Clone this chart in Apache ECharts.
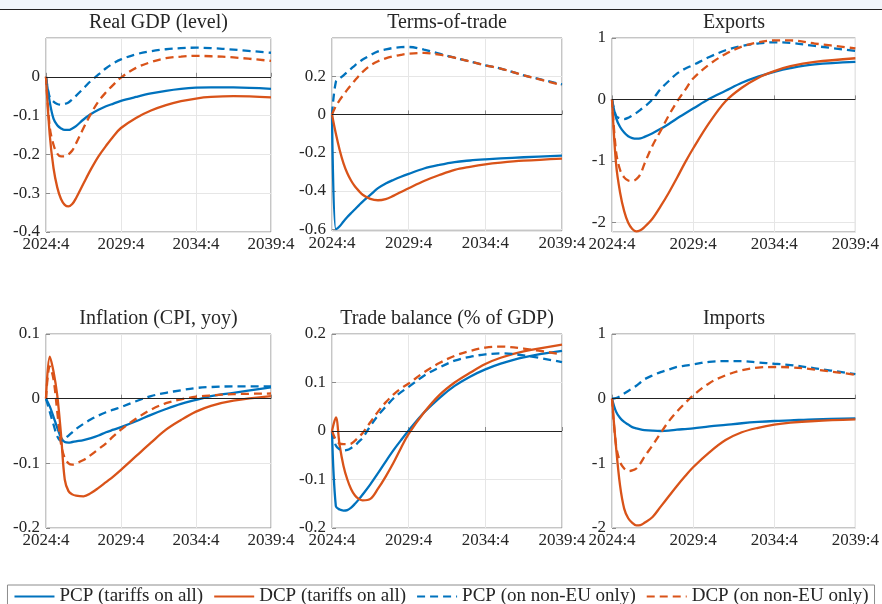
<!DOCTYPE html>
<html>
<head>
<meta charset="utf-8">
<title>Tariff scenarios - impulse responses</title>
<script src="https://cdn.jsdelivr.net/npm/echarts@6/dist/echarts.min.js"></script>
<style>
  html, body { margin: 0; padding: 0; background: #fff; }
  #chart { width: 882px; height: 604px; }
</style>
</head>
<body>
<div id="chart"></div>
<script>
// quarters after the shock (0 = 2024:4)
const quarters = [0, 1, 2, 3, 4, 5, 6, 7, 8, 10, 12, 14, 16, 18, 20, 24, 28, 32, 36, 40, 44, 50, 60];
const xTickLabels = ['2024:4', '2029:4', '2034:4', '2039:4'];
const seriesNames = ['PCP (tariffs on all)', 'DCP (tariffs on all)', 'PCP (on non-EU only)', 'DCP (on non-EU only)'];
const panelTitles = ['Real GDP (level)', 'Terms-of-trade', 'Exports', 'Inflation (CPI, yoy)', 'Trade balance (% of GDP)', 'Imports'];

// Real GDP (level)
const gdpPcpAll   = [0, -0.065, -0.108, -0.125, -0.133, -0.137, -0.137, -0.133, -0.127, -0.11, -0.096, -0.085, -0.076, -0.069, -0.062, -0.052, -0.043, -0.036, -0.031, -0.028, -0.027, -0.027, -0.031];
const gdpDcpAll   = [0, -0.15, -0.235, -0.285, -0.315, -0.33, -0.334, -0.328, -0.313, -0.275, -0.238, -0.205, -0.178, -0.153, -0.132, -0.106, -0.087, -0.073, -0.063, -0.056, -0.052, -0.05, -0.053];
const gdpPcpNonEu = [0, -0.053, -0.064, -0.07, -0.072, -0.07, -0.066, -0.058, -0.049, -0.03, -0.01, 0.006, 0.022, 0.035, 0.045, 0.058, 0.066, 0.071, 0.074, 0.075, 0.074, 0.07, 0.062];
const gdpDcpNonEu = [0, -0.13, -0.175, -0.198, -0.205, -0.205, -0.2, -0.19, -0.172, -0.132, -0.095, -0.063, -0.04, -0.02, -0.002, 0.023, 0.038, 0.048, 0.052, 0.054, 0.053, 0.05, 0.041];

// Terms-of-trade
const totPcpAll   = [0, -0.6, -0.585, -0.56, -0.537, -0.516, -0.496, -0.476, -0.456, -0.421, -0.386, -0.362, -0.343, -0.326, -0.311, -0.283, -0.264, -0.249, -0.241, -0.235, -0.23, -0.224, -0.216];
const totDcpAll   = [0, -0.1, -0.186, -0.256, -0.308, -0.347, -0.377, -0.4, -0.42, -0.442, -0.449, -0.443, -0.426, -0.406, -0.386, -0.348, -0.317, -0.29, -0.274, -0.261, -0.252, -0.242, -0.231];
const totPcpNonEu = [0, 0.17, 0.188, 0.205, 0.223, 0.24, 0.257, 0.272, 0.287, 0.31, 0.33, 0.34, 0.348, 0.352, 0.353, 0.339, 0.318, 0.297, 0.277, 0.257, 0.24, 0.205, 0.157];
const totDcpNonEu = [0, 0.043, 0.075, 0.103, 0.13, 0.155, 0.179, 0.201, 0.223, 0.256, 0.278, 0.293, 0.304, 0.312, 0.318, 0.322, 0.313, 0.297, 0.277, 0.257, 0.24, 0.205, 0.153];

// Exports
const expPcpAll   = [0, -0.3, -0.45, -0.54, -0.6, -0.63, -0.64, -0.635, -0.61, -0.55, -0.48, -0.4, -0.31, -0.23, -0.15, 0.01, 0.14, 0.27, 0.37, 0.45, 0.51, 0.57, 0.61];
const expDcpAll   = [0, -1.05, -1.52, -1.82, -2.01, -2.11, -2.15, -2.13, -2.08, -1.94, -1.74, -1.52, -1.28, -1.03, -0.8, -0.38, -0.03, 0.19, 0.35, 0.46, 0.54, 0.61, 0.67];
const expPcpNonEu = [0, -0.27, -0.31, -0.32, -0.3, -0.26, -0.22, -0.17, -0.12, 0.0, 0.17, 0.3, 0.42, 0.5, 0.56, 0.69, 0.8, 0.87, 0.91, 0.93, 0.92, 0.87, 0.79];
const expDcpNonEu = [0, -0.85, -1.15, -1.27, -1.32, -1.33, -1.3, -1.22, -1.05, -0.75, -0.51, -0.26, -0.04, 0.15, 0.34, 0.57, 0.74, 0.86, 0.93, 0.96, 0.96, 0.91, 0.83];

// Inflation (CPI, yoy)
const infPcpAll   = [0, -0.012, -0.028, -0.045, -0.06, -0.067, -0.068, -0.067, -0.066, -0.064, -0.061, -0.057, -0.052, -0.048, -0.044, -0.035, -0.025, -0.016, -0.008, -0.002, 0.004, 0.009, 0.0175];
const infDcpAll   = [0, 0.065, 0.042, 0.005, -0.055, -0.125, -0.143, -0.148, -0.15, -0.151, -0.146, -0.138, -0.129, -0.12, -0.11, -0.089, -0.068, -0.048, -0.033, -0.02, -0.011, -0.003, 0.004];
const infPcpNonEu = [0, -0.02, -0.04, -0.058, -0.065, -0.062, -0.057, -0.052, -0.047, -0.039, -0.032, -0.026, -0.021, -0.017, -0.013, -0.004, 0.004, 0.009, 0.013, 0.0165, 0.018, 0.019, 0.019];
const infDcpNonEu = [0, 0.05, 0.03, -0.02, -0.07, -0.092, -0.1, -0.102, -0.1, -0.095, -0.087, -0.078, -0.069, -0.058, -0.048, -0.031, -0.017, -0.007, -0.001, 0.003, 0.005, 0.007, 0.008];

// Trade balance (% of GDP)
const tbPcpAll   = [0, -0.155, -0.162, -0.164, -0.163, -0.158, -0.15, -0.141, -0.131, -0.11, -0.087, -0.063, -0.04, -0.019, 0.001, 0.038, 0.068, 0.093, 0.112, 0.127, 0.139, 0.152, 0.165];
const tbDcpAll   = [0, 0.028, -0.03, -0.072, -0.1, -0.12, -0.133, -0.14, -0.143, -0.14, -0.119, -0.094, -0.066, -0.035, -0.006, 0.038, 0.074, 0.1, 0.12, 0.138, 0.151, 0.164, 0.178];
const tbPcpNonEu = [0, -0.03, -0.038, -0.04, -0.039, -0.035, -0.03, -0.022, -0.014, 0.01, 0.032, 0.05, 0.067, 0.08, 0.091, 0.114, 0.131, 0.145, 0.153, 0.158, 0.16, 0.156, 0.142];
const tbDcpNonEu = [0, -0.018, -0.026, -0.027, -0.027, -0.026, -0.02, -0.012, -0.004, 0.018, 0.04, 0.059, 0.075, 0.088, 0.098, 0.121, 0.14, 0.155, 0.165, 0.172, 0.174, 0.17, 0.158];

// Imports
const impPcpAll   = [0, -0.2, -0.3, -0.36, -0.4, -0.44, -0.46, -0.475, -0.485, -0.495, -0.5, -0.495, -0.48, -0.47, -0.46, -0.43, -0.405, -0.38, -0.36, -0.345, -0.335, -0.32, -0.305];
const impDcpAll   = [0, -0.75, -1.35, -1.7, -1.85, -1.92, -1.96, -1.955, -1.92, -1.83, -1.67, -1.51, -1.35, -1.2, -1.06, -0.83, -0.64, -0.52, -0.45, -0.4, -0.37, -0.345, -0.32];
const impPcpNonEu = [0, 0.01, 0.04, 0.08, 0.12, 0.16, 0.2, 0.25, 0.3, 0.36, 0.41, 0.45, 0.49, 0.51, 0.53, 0.57, 0.58, 0.58, 0.56, 0.54, 0.52, 0.47, 0.38];
const impDcpNonEu = [0, -0.72, -0.98, -1.08, -1.12, -1.11, -1.08, -1.0, -0.9, -0.72, -0.53, -0.35, -0.2, -0.07, 0.05, 0.24, 0.36, 0.44, 0.48, 0.49, 0.485, 0.45, 0.37];

const BLUE = '#0072BD';
const ORANGE = '#D95319';
const FONT = '"Liberation Serif", "DejaVu Serif", serif';
const TEXT = '#262626';
const FRAME = '#8c8c8c';

// layout of the 2x3 panels
const panels = [
  { grid: { left: 46,  top: 38,  width: 225, height: 194 }, y: { min: -0.4, max: 0.1, interval: 0.1 },
    data: [gdpPcpAll, gdpDcpAll, gdpPcpNonEu, gdpDcpNonEu] },
  { grid: { left: 332, top: 38,  width: 230, height: 193 }, y: { min: -0.61, max: 0.4, splitNumber: 5 },
    data: [totPcpAll, totDcpAll, totPcpNonEu, totDcpNonEu] },
  { grid: { left: 612, top: 38,  width: 244, height: 194 }, y: { min: -2.16, max: 1, splitNumber: 3 },
    data: [expPcpAll, expDcpAll, expPcpNonEu, expDcpNonEu] },
  { grid: { left: 46,  top: 334, width: 225, height: 194 }, y: { min: -0.2, max: 0.1, interval: 0.1 },
    data: [infPcpAll, infDcpAll, infPcpNonEu, infDcpNonEu] },
  { grid: { left: 332, top: 334, width: 230, height: 194 }, y: { min: -0.2, max: 0.2, interval: 0.1 },
    data: [tbPcpAll, tbDcpAll, tbPcpNonEu, tbDcpNonEu] },
  { grid: { left: 612, top: 334, width: 244, height: 194 }, y: { min: -2, max: 1, interval: 1 },
    data: [impPcpAll, impDcpAll, impPcpNonEu, impDcpNonEu] }
];

const grids = [], xAxes = [], yAxes = [], series = [], titles = [];

panels.forEach((p, i) => {
  grids.push(Object.assign({ show: true, borderColor: FRAME, borderWidth: 1 }, p.grid));

  titles.push({
    text: panelTitles[i],
    left: p.grid.left + p.grid.width / 2,
    top: p.grid.top - 25,
    textAlign: 'center',
    padding: 0,
    textStyle: { fontFamily: FONT, fontSize: 20, fontWeight: 'normal', color: TEXT }
  });

  xAxes.push({
    gridIndex: i, type: 'value', min: 0, max: 60, interval: 20,
    axisLine: { show: false },
    axisTick: { inside: true, length: 4, lineStyle: { color: FRAME } },
    splitLine: { show: true, lineStyle: { color: '#e6e6e6' } },
    axisLabel: {
      margin: 4, fontFamily: FONT, fontSize: 17, color: TEXT,
      formatter: v => xTickLabels[Math.round(v / 20)]
    }
  });

  yAxes.push(Object.assign({
    gridIndex: i, type: 'value',
    axisLine: { show: false },
    axisTick: { inside: true, length: 4, lineStyle: { color: FRAME } },
    splitLine: { show: true, lineStyle: { color: '#e6e6e6' } },
    axisLabel: {
      margin: 6, fontFamily: FONT, fontSize: 17, color: TEXT,
      showMinLabel: i === 1 || i === 2 ? false : true,
      showMaxLabel: i <= 1 ? false : true
    }
  }, p.y));

  p.data.forEach((vals, k) => {
    const color = k % 2 === 0 ? BLUE : ORANGE;
    const s = {
      name: seriesNames[k],
      type: 'line',
      xAxisIndex: i,
      yAxisIndex: i,
      data: quarters.map((q, j) => [q, vals[j]]),
      symbol: 'none',
      showSymbol: false,
      smooth: 0.35,
      color: color,
      lineStyle: { color: color, width: 2.3, type: k < 2 ? 'solid' : [8, 5] }
    };
    if (k === 0) {
      // black zero line
      s.markLine = {
        silent: true, symbol: 'none', label: { show: false },
        lineStyle: { color: '#222', width: 1, type: 'solid' },
        data: [{ yAxis: 0 }]
      };
    }
    series.push(s);
  });
});

const chart = echarts.init(document.getElementById('chart'));
chart.setOption({
  backgroundColor: '#fff',
  animation: false,
  title: titles,
  legend: {
    data: seriesNames,
    left: 'center',
    top: 585,
    itemWidth: 40,
    itemHeight: 12,
    itemGap: 10,
    padding: [2, 6],
    borderColor: FRAME,
    borderWidth: 1,
    itemStyle: { opacity: 0 },
    textStyle: { fontFamily: FONT, fontSize: 19, color: TEXT }
  },
  graphic: [
    { type: 'rect', shape: { x: 0, y: 0, width: 882, height: 9 }, style: { fill: '#f1f6fb' } },
    { type: 'line', shape: { x1: 0, y1: 9.5, x2: 882, y2: 9.5 }, style: { stroke: '#222', lineWidth: 1 } }
  ],
  grid: grids,
  xAxis: xAxes,
  yAxis: yAxes,
  series: series
});
</script>
</body>
</html>
